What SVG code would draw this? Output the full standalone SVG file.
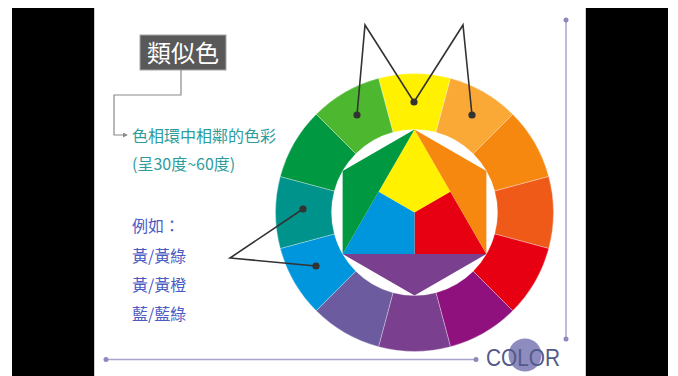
<svg xmlns="http://www.w3.org/2000/svg" width="678" height="376" viewBox="0 0 678 376">
<style>
.seg{stroke:#ffffff;stroke-width:0.6;stroke-opacity:0.5}
.tri{stroke:none}
.ptr{fill:none;stroke:#333333;stroke-width:1.6;stroke-linejoin:miter}
.dot{fill:#333333}
.cjk{font-family:"Noto Sans CJK TC","Noto Sans CJK SC",sans-serif}
.teal{fill:#2E9C9C;font-size:16px}
.blue{fill:#4C5CC4;font-size:16px}
.axis{stroke:#A8A5CF;stroke-width:1.5;fill:none}
.axdot{fill:#8C89BD}
</style>
<defs>
<marker id="arr" viewBox="0 0 6 6" refX="5" refY="3" markerWidth="5" markerHeight="5" orient="auto" markerUnits="userSpaceOnUse">
<path d="M0,0 L6,3 L0,6 Z" fill="#8a8a8a"/>
</marker>
</defs>
<rect x="0" y="0" width="678" height="376" fill="#ffffff"/>
<rect x="12" y="8" width="82" height="368" fill="#000000"/>
<rect x="586" y="8" width="82" height="368" fill="#000000"/>
<line x1="94.5" y1="8" x2="94.5" y2="376" stroke="#cccccc" stroke-width="1"/>
<line x1="585.5" y1="8" x2="585.5" y2="376" stroke="#cccccc" stroke-width="1"/>

<g id="wheel-ring">
<path class="seg" fill="#FFF100" d="M378.52,78.24 A139,139 0 0 1 450.48,78.24 L435.98,132.33 A83,83 0 0 0 393.02,132.33 Z"/>
<path class="seg" fill="#FAA836" d="M450.48,78.24 A139,139 0 0 1 512.79,114.21 L473.19,153.81 A83,83 0 0 0 435.98,132.33 Z"/>
<path class="seg" fill="#F68810" d="M512.79,114.21 A139,139 0 0 1 548.76,176.52 L494.67,191.02 A83,83 0 0 0 473.19,153.81 Z"/>
<path class="seg" fill="#EF5A19" d="M548.76,176.52 A139,139 0 0 1 548.76,248.48 L494.67,233.98 A83,83 0 0 0 494.67,191.02 Z"/>
<path class="seg" fill="#E60012" d="M548.76,248.48 A139,139 0 0 1 512.79,310.79 L473.19,271.19 A83,83 0 0 0 494.67,233.98 Z"/>
<path class="seg" fill="#8F117E" d="M512.79,310.79 A139,139 0 0 1 450.48,346.76 L435.98,292.67 A83,83 0 0 0 473.19,271.19 Z"/>
<path class="seg" fill="#7B3F8F" d="M450.48,346.76 A139,139 0 0 1 378.52,346.76 L393.02,292.67 A83,83 0 0 0 435.98,292.67 Z"/>
<path class="seg" fill="#6C5B9E" d="M378.52,346.76 A139,139 0 0 1 316.21,310.79 L355.81,271.19 A83,83 0 0 0 393.02,292.67 Z"/>
<path class="seg" fill="#0096DD" d="M316.21,310.79 A139,139 0 0 1 280.24,248.48 L334.33,233.98 A83,83 0 0 0 355.81,271.19 Z"/>
<path class="seg" fill="#00938B" d="M280.24,248.48 A139,139 0 0 1 280.24,176.52 L334.33,191.02 A83,83 0 0 0 334.33,233.98 Z"/>
<path class="seg" fill="#009840" d="M280.24,176.52 A139,139 0 0 1 316.21,114.21 L355.81,153.81 A83,83 0 0 0 334.33,191.02 Z"/>
<path class="seg" fill="#4DB82F" d="M316.21,114.21 A139,139 0 0 1 378.52,78.24 L393.02,132.33 A83,83 0 0 0 355.81,153.81 Z"/>
</g>

<g id="wheel-center">
<polygon class="tri" fill="#FFF100" points="414.5,129.5 450.44,191.75 414.5,212.5 378.56,191.75"/>
<polygon class="tri" fill="#E60012" points="414.5,212.5 450.44,191.75 486.38,254 414.5,254"/>
<polygon class="tri" fill="#0096DD" points="414.5,212.5 414.5,254 342.62,254 378.56,191.75"/>
<polygon class="tri" fill="#009840" points="414.5,129.5 342.62,171 342.62,254"/>
<polygon class="tri" fill="#F68810" points="414.5,129.5 486.38,171 486.38,254"/>
<polygon class="tri" fill="#7B3F8F" points="342.62,254 486.38,254 414.5,295.5"/>
</g>

<g id="title">
<rect x="140" y="35" width="86" height="35" fill="#595959" stroke="#a6a6a6" stroke-width="1"/>
<text x="183" y="62" class="cjk" font-size="24" fill="#ffffff" text-anchor="middle">類似色</text>
</g>

<g id="definition">
<text x="132" y="142" class="cjk teal">色相環中相鄰的色彩</text>
<text x="132" y="170" class="cjk teal">(呈30度~60度)</text>
</g>

<g id="examples">
<text x="132" y="232" class="cjk blue">例如：</text>
<text x="132" y="262" class="cjk blue">黃/黃綠</text>
<text x="132" y="291" class="cjk blue">黃/黃橙</text>
<text x="132" y="320" class="cjk blue">藍/藍綠</text>
</g>

<g id="connectors">
<path d="M181,70 V95 H114 V135 H127" fill="none" stroke="#8a8a8a" stroke-width="1.2" marker-end="url(#arr)"/>
<polyline class="ptr" points="357,115 365,25 414,102 463,25 472,115"/>
<polyline class="ptr" points="303,209 230,258 316,266"/>
<circle class="dot" cx="357" cy="115" r="3.6"/>
<circle class="dot" cx="414" cy="102" r="3.6"/>
<circle class="dot" cx="472" cy="115" r="3.6"/>
<circle class="dot" cx="303" cy="209" r="3.6"/>
<circle class="dot" cx="316" cy="266" r="3.6"/>
</g>

<g id="axes">
<line class="axis" x1="106" y1="359.5" x2="476" y2="359.5"/>
<circle class="axdot" cx="106" cy="359.5" r="2.5"/>
<circle class="axdot" cx="476" cy="359.5" r="2.5"/>
<line class="axis" x1="566" y1="20" x2="566" y2="339"/>
<circle class="axdot" cx="566" cy="20" r="2.5"/>
<circle class="axdot" cx="566" cy="339" r="2.5"/>
</g>

<g id="logo">
<circle cx="525" cy="355" r="16.5" fill="#8E8BBE"/>
<text x="486" y="366" font-family="Liberation Sans, Arial, sans-serif" font-size="24" fill="#525A8C" textLength="74" lengthAdjust="spacingAndGlyphs">COLOR</text>
</g>
</svg>
